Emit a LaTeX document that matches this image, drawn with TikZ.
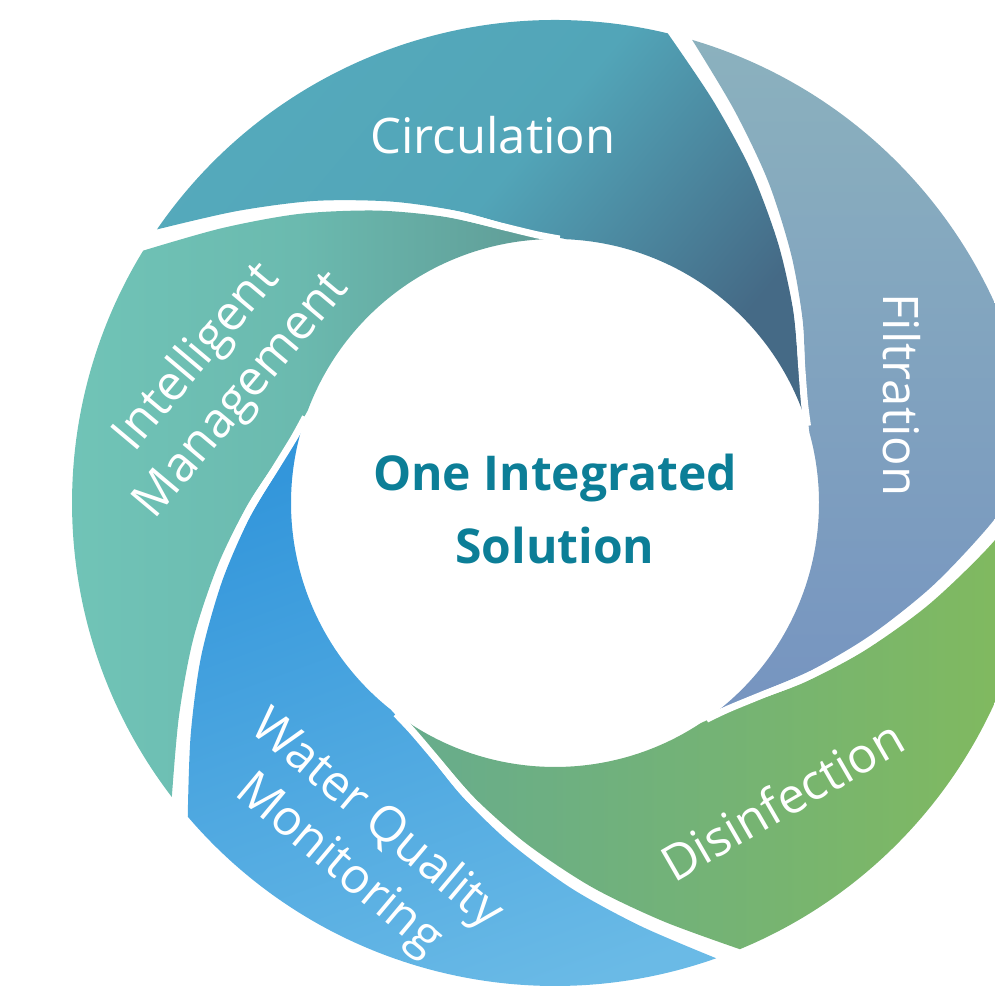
\documentclass[tikz,border=0pt]{standalone}
\usepackage{fontspec}
\setmainfont{Open Sans}
\definecolor{circA}{HTML}{55AABC}
\definecolor{circM}{HTML}{52A5B8}
\definecolor{circB}{HTML}{456A86}
\definecolor{imA}{HTML}{5F9B96}
\definecolor{imM}{HTML}{6BBAAF}
\definecolor{imB}{HTML}{71C5B8}
\definecolor{wqA}{HTML}{3396DB}
\definecolor{wqB}{HTML}{6ABAE6}
\definecolor{disA}{HTML}{67AC8D}
\definecolor{disB}{HTML}{82BA5C}
\definecolor{filA}{HTML}{8BB1BE}
\definecolor{filB}{HTML}{7694C0}
\definecolor{ctrtext}{HTML}{0C7E97}
\newcommand\bcurve[1]{plot[smooth] coordinates {({75+#1}:483) ({67+#1}:432) ({58+#1}:386) ({48+#1}:343) ({38+#1}:308) ({29+#1}:282) ({22+#1}:269) ({17+#1}:264)}}
\newcommand\bcurveline[1]{-- plot[smooth] coordinates {({75+#1}:483) ({67+#1}:432) ({58+#1}:386) ({48+#1}:343) ({38+#1}:308) ({29+#1}:282) ({22+#1}:269) ({17+#1}:264)}}
\newcommand\bcurverev[1]{plot[smooth] coordinates {({17+#1}:264) ({22+#1}:269) ({29+#1}:282) ({38+#1}:308) ({48+#1}:343) ({58+#1}:386) ({67+#1}:432) ({75+#1}:483)}}
\newcommand\bladepath[1]{\bcurverev{#1+1.5} arc[start angle={75+#1+1.5}, end angle={147+#1-1.5}, radius=483] \bcurveline{#1+72-1.5} arc[start angle={89+#1-1.5}, end angle={17+#1+1.5}, radius=264] -- cycle}
\begin{document}
\begin{tikzpicture}[x=0.5pt,y=0.5pt,
  gapline/.style={draw=white, line width=3.5pt},
  circshade/.style={top color=circA, bottom color=circB, middle color=circM, shading angle=50},
  imshade/.style={left color=imB, right color=imA, middle color=imM},
  wqshade/.style={top color=wqA, bottom color=wqB, shading angle=20},
  disshade/.style={left color=disA, right color=disB},
  filshade/.style={top color=filA, bottom color=filB},
  lbl/.style={text=white, font=\fontsize{24.5}{29.5}\selectfont, align=center, inner sep=0pt},
  ctr/.style={text=ctrtext, font=\bfseries\fontsize{24}{36.5}\selectfont, align=center, inner sep=0pt}]
\useasboundingbox (0,0) rectangle (995,988);
\clip (0,0) rectangle (995,988);
\begin{scope}[shift={(555,485)}]
  \shade[circshade] \bladepath{0};
  \shade[imshade] \bladepath{72};
  \shade[wqshade] \bladepath{144};
  \shade[disshade] \bladepath{216};
  \shade[filshade] \bladepath{288};
  \foreach \a in {0,72,144,216,288} { \draw[gapline] \bcurve{\a}; }
\end{scope}
\node[lbl] (circ) at (493,853) {Circulation};
\node[lbl, rotate=-90] (filt) at (902,593) {Filtration};
\node[lbl, rotate=30] (disin) at (782,188) {Disinfection};
\node[lbl, rotate=-40] (wqm) at (357,145) {Water Quality\\Monitoring};
\node[lbl, rotate=50] (intel) at (220,611) {Intelligent\\Management};
\node[ctr] (core) at (555,479) {One Integrated\\Solution};
\end{tikzpicture}
\end{document}
